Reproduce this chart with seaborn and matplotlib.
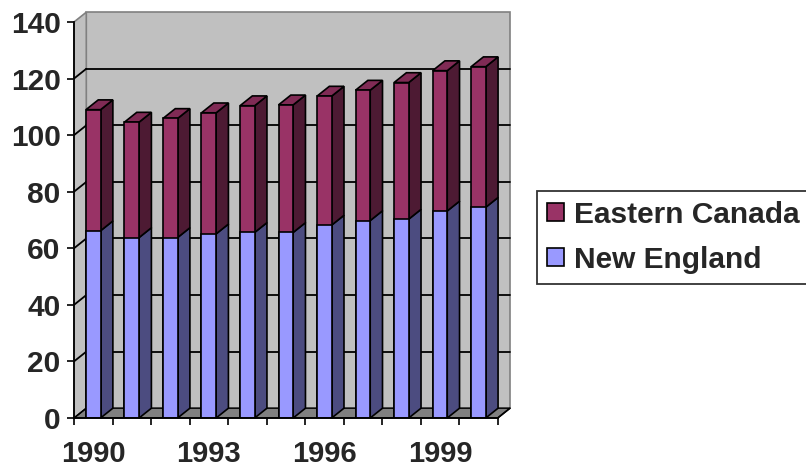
import numpy as np
import pandas as pd
import matplotlib
matplotlib.use("Agg")
import matplotlib.pyplot as plt
from matplotlib.patches import Polygon, Patch
import seaborn as sns

# Annual values (stacked): New England at the bottom, Eastern Canada on top
years = ["1990", "1991", "1992", "1993", "1994", "1995",
         "1996", "1997", "1998", "1999", "2000"]
new_england = [66.2, 63.8, 63.8, 65.1, 65.6, 65.6, 68.2, 69.8, 70.3, 73.2, 74.5]
eastern_canada = [42.8, 40.8, 42.1, 42.8, 44.8, 45.1, 45.6, 46.1, 48.3, 49.6, 49.7]
y_ticks = [0, 20, 40, 60, 80, 100, 120, 140]
x_labelled = ["1990", "1993", "1996", "1999"]

df = pd.DataFrame({"year": years, "ne": new_england, "ec": eastern_canada})
df["total"] = df["ne"] + df["ec"]

sns.set_style("white")
plt.rcParams["font.family"] = ["Liberation Sans", "DejaVu Sans"]
plt.rcParams["font.weight"] = "bold"
FS = 21.5
FS_X = 21

W, H = 806, 468
fig = plt.figure(figsize=(W / 100, H / 100), dpi=100)
ax_l, ax_r, ax_b, ax_t = 74, 497.7, 50, 446
ax = fig.add_axes([ax_l / W, ax_b / H, (ax_r - ax_l) / W, (ax_t - ax_b) / H])

n = len(years)
ymax = 140
ax.set_xlim(-0.5, n - 0.5)
ax.set_ylim(0, ymax)

# oblique depth offset (pixels -> data units)
px_cat = (ax_r - ax_l) / n
px_val = (ax_t - ax_b) / ymax
DX = 12.3 / px_cat
DY = 9.8 / px_val

wall = "#C0C0C0"
floor_c = "#808080"
edge_gray = "#808080"

x0, x1 = -0.5, n - 0.5
# back wall
ax.add_patch(Polygon([(x0 + DX, DY), (x1 + DX, DY), (x1 + DX, ymax + DY), (x0 + DX, ymax + DY)],
                     closed=True, facecolor=wall, edgecolor=edge_gray, lw=1.2, zorder=0.5, clip_on=False))
# left side wall
ax.add_patch(Polygon([(x0, 0), (x0 + DX, DY), (x0 + DX, ymax + DY), (x0, ymax)],
                     closed=True, facecolor=wall, edgecolor=edge_gray, lw=1.2, zorder=0.6, clip_on=False))
# floor
ax.add_patch(Polygon([(x0, 0), (x1, 0), (x1 + DX, DY), (x0 + DX, DY)],
                     closed=True, facecolor=floor_c, edgecolor="black", lw=1.0, zorder=0.7, clip_on=False))

# gridlines on back wall and side wall
for v in y_ticks[1:-1]:
    ax.plot([x0 + DX, x1 + DX], [v + DY, v + DY], color="black", lw=1.3, zorder=0.8, clip_on=False)
    ax.plot([x0, x0 + DX], [v, v + DY], color="black", lw=1.3, zorder=0.8, clip_on=False)
ax.plot([x0, x0 + DX], [0, DY], color="black", lw=1.0, zorder=0.8, clip_on=False)

# front faces of the stacked bars
bw = 0.38
sns.barplot(data=df, x="year", y="total", color="#993366", saturation=1, width=bw,
            edgecolor="black", linewidth=1.2, errorbar=None, ax=ax, zorder=3)
sns.barplot(data=df, x="year", y="ne", color="#9999FF", saturation=1, width=bw,
            edgecolor="black", linewidth=1.2, errorbar=None, ax=ax, zorder=3.1)

# side and top faces
for i, (ne, tot) in enumerate(zip(df["ne"], df["total"])):
    xr = i + bw / 2
    xl = i - bw / 2
    ax.add_patch(Polygon([(xr, 0), (xr + DX, DY), (xr + DX, ne + DY), (xr, ne)],
                         closed=True, facecolor="#4C4C80", edgecolor="black", lw=1.2, zorder=2.9, clip_on=False))
    ax.add_patch(Polygon([(xr, ne), (xr + DX, ne + DY), (xr + DX, tot + DY), (xr, tot)],
                         closed=True, facecolor="#4D1A33", edgecolor="black", lw=1.2, zorder=2.9, clip_on=False))
    ax.add_patch(Polygon([(xl, tot), (xr, tot), (xr + DX, tot + DY), (xl + DX, tot + DY)],
                         closed=True, facecolor="#802B55", edgecolor="black", lw=1.2, zorder=2.9, clip_on=False))

ax.set_xlim(-0.5, n - 0.5)
ax.set_ylim(0, ymax)
ax.set_xlabel("")
ax.set_ylabel("")

# axes lines
for side in ["top", "right"]:
    ax.spines[side].set_visible(False)
for side in ["left", "bottom"]:
    ax.spines[side].set_color("black")
    ax.spines[side].set_linewidth(1.3)
    ax.spines[side].set_zorder(4)
ax.plot([x1, x1 + DX], [0, DY], color="black", lw=1.2, zorder=4, clip_on=False)

ax.set_yticks(y_ticks, labels=[str(v) for v in y_ticks])
ax.tick_params(axis="y", which="major", direction="out", length=5, width=1.2,
               pad=4.6, labelsize=FS, left=True, color="black")
ax.set_xticks(np.arange(-0.5, n, 1.0), labels=[""] * (n + 1))
ax.tick_params(axis="x", which="major", direction="out", length=5, width=1.2,
               bottom=True, color="black")
ax.set_xticks([years.index(y) for y in x_labelled], labels=x_labelled, minor=True)
ax.tick_params(axis="x", which="minor", length=0, pad=16.0, labelsize=FS_X)
for lab in ax.get_xticklabels(minor=True) + ax.get_yticklabels():
    lab.set_fontweight("bold")
ax.grid(False)
ax.set_facecolor("none")

handles = [Patch(facecolor="#993366", edgecolor="black", lw=1.2, label="Eastern Canada"),
           Patch(facecolor="#9999FF", edgecolor="black", lw=1.2, label="New England")]
leg = fig.legend(handles=handles, loc="upper left",
                 bbox_to_anchor=(537.3 / W, 1 - 190.7 / H),
                 prop={"size": FS, "weight": "bold"}, frameon=True, fancybox=False,
                 edgecolor="black", borderpad=0.33, handlelength=0.55, handleheight=0.55,
                 handletextpad=0.35, labelspacing=0.58, borderaxespad=0)
leg.get_frame().set_linewidth(1.3)

fig.savefig("out.png", dpi=100, facecolor="white")
